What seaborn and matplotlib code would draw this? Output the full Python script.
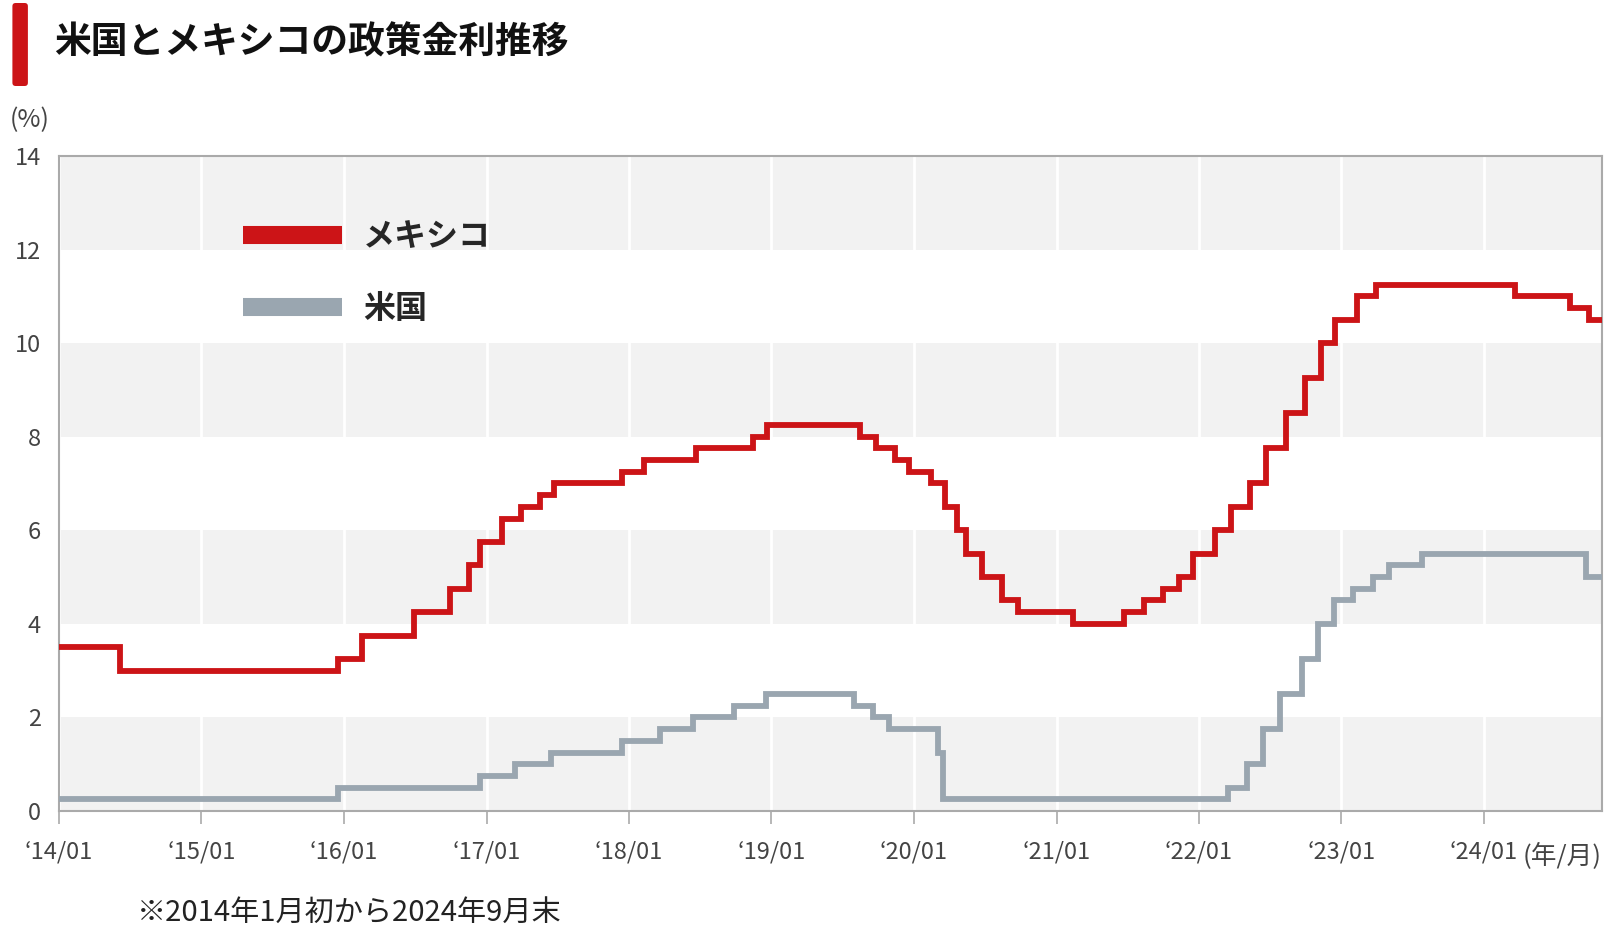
import pandas as pd
import matplotlib.pyplot as plt
import matplotlib.patches as mpatches
import seaborn as sns

sns.set_theme(style="white")
plt.rcParams["font.family"] = ["Noto Sans CJK JP", "DejaVu Sans"]

# policy rate change dates / levels (%)
mx_dates = ["2014-01-01", "2014-06-06", "2015-12-17", "2016-02-17", "2016-06-30",
            "2016-09-29", "2016-11-17", "2016-12-15", "2017-02-09", "2017-03-30",
            "2017-05-18", "2017-06-22", "2017-12-14", "2018-02-08", "2018-06-21",
            "2018-11-15", "2018-12-20", "2019-08-15", "2019-09-26", "2019-11-14",
            "2019-12-19", "2020-02-13", "2020-03-20", "2020-04-21", "2020-05-14",
            "2020-06-25", "2020-08-13", "2020-09-24", "2021-02-11", "2021-06-24",
            "2021-08-12", "2021-09-30", "2021-11-11", "2021-12-16", "2022-02-10",
            "2022-03-24", "2022-05-12", "2022-06-23", "2022-08-11", "2022-09-29",
            "2022-11-10", "2022-12-15", "2023-02-09", "2023-03-30", "2024-03-21",
            "2024-08-08", "2024-09-26"]
mx_rates = [3.50, 3.00, 3.25, 3.75, 4.25,
            4.75, 5.25, 5.75, 6.25, 6.50,
            6.75, 7.00, 7.25, 7.50, 7.75,
            8.00, 8.25, 8.00, 7.75, 7.50,
            7.25, 7.00, 6.50, 6.00, 5.50,
            5.00, 4.50, 4.25, 4.00, 4.25,
            4.50, 4.75, 5.00, 5.50, 6.00,
            6.50, 7.00, 7.75, 8.50, 9.25,
            10.00, 10.50, 11.00, 11.25, 11.00,
            10.75, 10.50]

us_dates = ["2014-01-01", "2015-12-16", "2016-12-14", "2017-03-15", "2017-06-14",
            "2017-12-13", "2018-03-21", "2018-06-13", "2018-09-26", "2018-12-19",
            "2019-07-31", "2019-09-18", "2019-10-30", "2020-03-03", "2020-03-15",
            "2022-03-16", "2022-05-04", "2022-06-15", "2022-07-27", "2022-09-21",
            "2022-11-02", "2022-12-14", "2023-02-01", "2023-03-22", "2023-05-03",
            "2023-07-26", "2024-09-18"]
us_rates = [0.25, 0.50, 0.75, 1.00, 1.25,
            1.50, 1.75, 2.00, 2.25, 2.50,
            2.25, 2.00, 1.75, 1.25, 0.25,
            0.50, 1.00, 1.75, 2.50, 3.25,
            4.00, 4.50, 4.75, 5.00, 5.25,
            5.50, 5.00]

end_date = "2024-10-30"
tick_years = list(range(2014, 2025))
tick_labels = ["‘14/01", "‘15/01", "‘16/01", "‘17/01", "‘18/01", "‘19/01",
               "‘20/01", "‘21/01", "‘22/01", "‘23/01", "‘24/01"]
series_names = ["メキシコ", "米国"]

RED = "#cc1417"
GREY = "#9aa6b0"
TXT = "#444444"


def to_frame(dates, rates):
    d = pd.DataFrame({"date": pd.to_datetime(dates), "rate": rates})
    last = pd.DataFrame({"date": [pd.Timestamp(end_date)], "rate": [rates[-1]]})
    return pd.concat([d, last], ignore_index=True)


mx = to_frame(mx_dates, mx_rates)
us = to_frame(us_dates, us_rates)

fig = plt.figure(figsize=(16.19, 9.30), dpi=100)
ax = fig.add_axes([59 / 1619, 1 - 811 / 930, 1543 / 1619, 655 / 930])

# alternating horizontal bands
for lo in range(0, 14, 4):
    ax.axhspan(lo, lo + 2, color="#f2f2f2", zorder=0, lw=0)

ticks = [pd.Timestamp(f"{y}-01-01") for y in tick_years]
for t in ticks:
    ax.axvline(t, color="white", lw=2, zorder=0.5)

sns.lineplot(data=us, x="date", y="rate", ax=ax, color=GREY, lw=4.2,
             drawstyle="steps-post", label=series_names[1], zorder=3)
sns.lineplot(data=mx, x="date", y="rate", ax=ax, color=RED, lw=4.2,
             drawstyle="steps-post", label=series_names[0], zorder=4)
for ln in ax.lines[-2:]:
    ln.set_solid_joinstyle("miter")

ax.set_xlim(pd.Timestamp("2014-01-01"), pd.Timestamp(end_date))
ax.set_ylim(0, 14)
ax.set_yticks(range(0, 15, 2))
ax.set_xticks(ticks)
ax.set_xticklabels(tick_labels)
ax.set_xlabel("")
ax.set_ylabel("")
ax.grid(False)

for s in ax.spines.values():
    s.set_color("#aaaaaa")
    s.set_linewidth(1.5)

ax.tick_params(axis="x", bottom=True, length=9, width=1.2, color="#aaaaaa",
               pad=12, labelsize=17, labelcolor=TXT)
ax.tick_params(axis="y", left=False, length=0, pad=13, labelsize=17, labelcolor=TXT)

# legend
handles, labels = ax.get_legend_handles_labels()
order = [labels.index(n) for n in series_names]
leg = ax.legend([handles[i] for i in order], [labels[i] for i in order],
                loc="upper left", bbox_to_anchor=(243 / 1619, 1 - 221 / 930),
                bbox_transform=fig.transFigure, frameon=False, borderpad=0,
                borderaxespad=0, handlelength=3.1, handletextpad=0.65,
                labelspacing=1.25, prop={"size": 23, "weight": "bold"})
for h in leg.legend_handles:
    h.set_linewidth(13)
    h.set_solid_capstyle("butt")

# title + red marker bar
fig.patches.append(mpatches.FancyBboxPatch(
    (12.4 / 1619, 1 - 86 / 930), 15.5 / 1619, 83 / 930,
    boxstyle="round,pad=0,rounding_size=0.002", mutation_aspect=1619 / 930,
    transform=fig.transFigure, facecolor=RED, edgecolor="none"))
fig.text(54 / 1619, 1 - 43 / 930, "米国とメキシコの政策金利推移", fontsize=26.5,
         fontweight="bold", va="center", ha="left", color="#111111")

fig.text(10 / 1619, 1 - 120 / 930, "(%)", fontsize=18, va="center", color=TXT)
ax.text(1.0, -0.068, "(年/月)", transform=ax.transAxes, ha="right", va="center",
        fontsize=18.5, color=TXT)
fig.text(137 / 1619, 1 - 913 / 930, "※2014年1月初から2024年9月末", fontsize=21,
         va="center", ha="left", color="#222222")

fig.savefig("out.png", dpi=100)
